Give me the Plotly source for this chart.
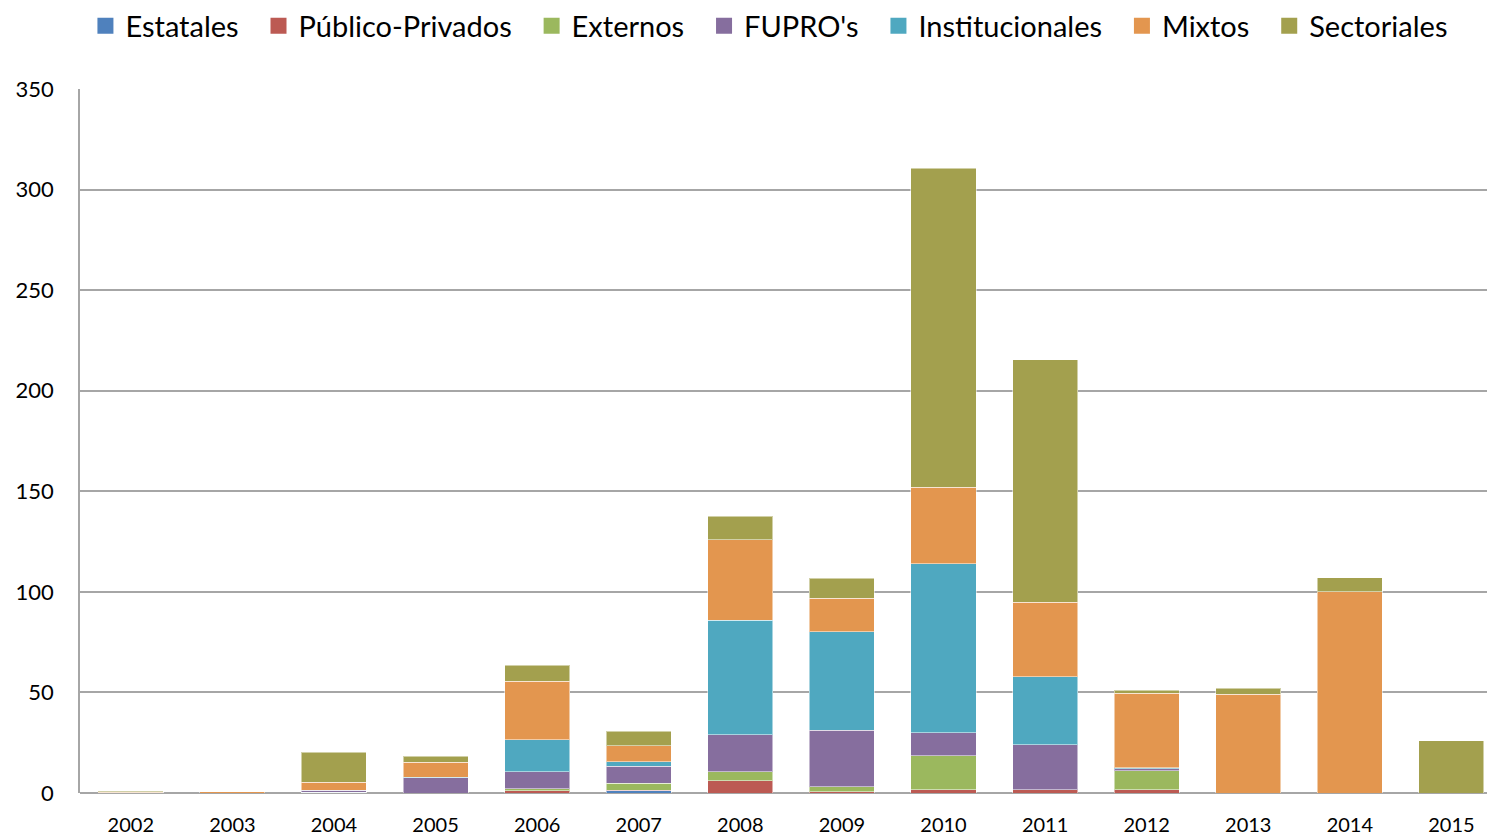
import plotly.graph_objects as go

years = ['2002', '2003', '2004', '2005', '2006', '2007', '2008',
         '2009', '2010', '2011', '2012', '2013', '2014', '2015']

estatales = [0, 0, 0.3, 0, 0, 1, 0, 0, 0, 0, 0, 0, 0, 0]
publico_privados = [0, 0, 0, 0, 1, 0.3, 6, 0.7, 1.5, 1.5, 1.5, 0, 0, 0]
externos = [0, 0, 0, 0, 1, 3.5, 4.5, 2.5, 17, 0, 9.5, 0, 0, 0]
fupros = [0, 0, 1, 7.5, 8.5, 8.6, 18.5, 28, 11.5, 22.4, 1, 0, 0, 0]
institucionales = [0, 0, 0, 0.3, 16, 2.2, 57, 49, 84, 34, 0.5, 0, 0, 0]
mixtos = [0.3, 0.6, 4, 7.5, 29, 8, 40, 16.5, 38, 37, 37, 49, 100, 0]
sectoriales = [0.6, 0, 15, 3, 8, 7, 11.5, 10, 158.5, 120.5, 1.6, 3, 7, 26]

series = [
    ('Estatales', estatales, '#4F81BD'),
    ('Público-Privados', publico_privados, '#BC5A53'),
    ('Externos', externos, '#9BB85E'),
    ("FUPRO's", fupros, '#866E9E'),
    ('Institucionales', institucionales, '#4FA8C0'),
    ('Mixtos', mixtos, '#E3964F'),
    ('Sectoriales', sectoriales, '#A3A04E'),
]

fig = go.Figure()
for name, vals, color in series:
    fig.add_trace(go.Bar(
        x=years, y=vals, name=name, showlegend=False,
        marker=dict(color=color, line=dict(color='rgba(255,255,255,0.5)', width=1)),
    ))
# legend entries with bigger square swatches (nbsp pads the gap between items)
for i, (name, vals, color) in enumerate(series):
    pad = '' if i == len(series) - 1 else '\u00a0\u00a0'
    fig.add_trace(go.Scatter(
        x=[None], y=[None], name=name + pad, mode='markers',
        marker=dict(symbol='square', size=17, color=color),
    ))

fig.update_layout(
    barmode='stack',
    bargap=0.36,
    width=1487, height=835,
    paper_bgcolor='white', plot_bgcolor='white',
    margin=dict(l=80, r=0, t=89, b=42),
    font=dict(family='Lato, Open Sans, sans-serif', color='black'),
    legend=dict(orientation='h', x=0.49, xanchor='center', y=0.969, yanchor='middle',
                yref='container', font=dict(size=29), itemwidth=30,
                traceorder='normal', itemsizing='trace'),
    xaxis=dict(range=[-0.5, 13.35], showgrid=False, showline=False,
               ticks='', tickfont=dict(size=20), ticklabelstandoff=18),
    yaxis=dict(range=[0, 350], dtick=50, showgrid=True, gridcolor='#A6A6A6',
               gridwidth=1.5, showline=True, linecolor='#A6A6A6', linewidth=1.5,
               zeroline=True, zerolinecolor='#A6A6A6', zerolinewidth=1.5,
               tickfont=dict(size=22), ticklabelstandoff=20),
)

fig.write_html('out.html', config={'displayModeBar': False},
               post_script="document.body.style.margin='0';")
